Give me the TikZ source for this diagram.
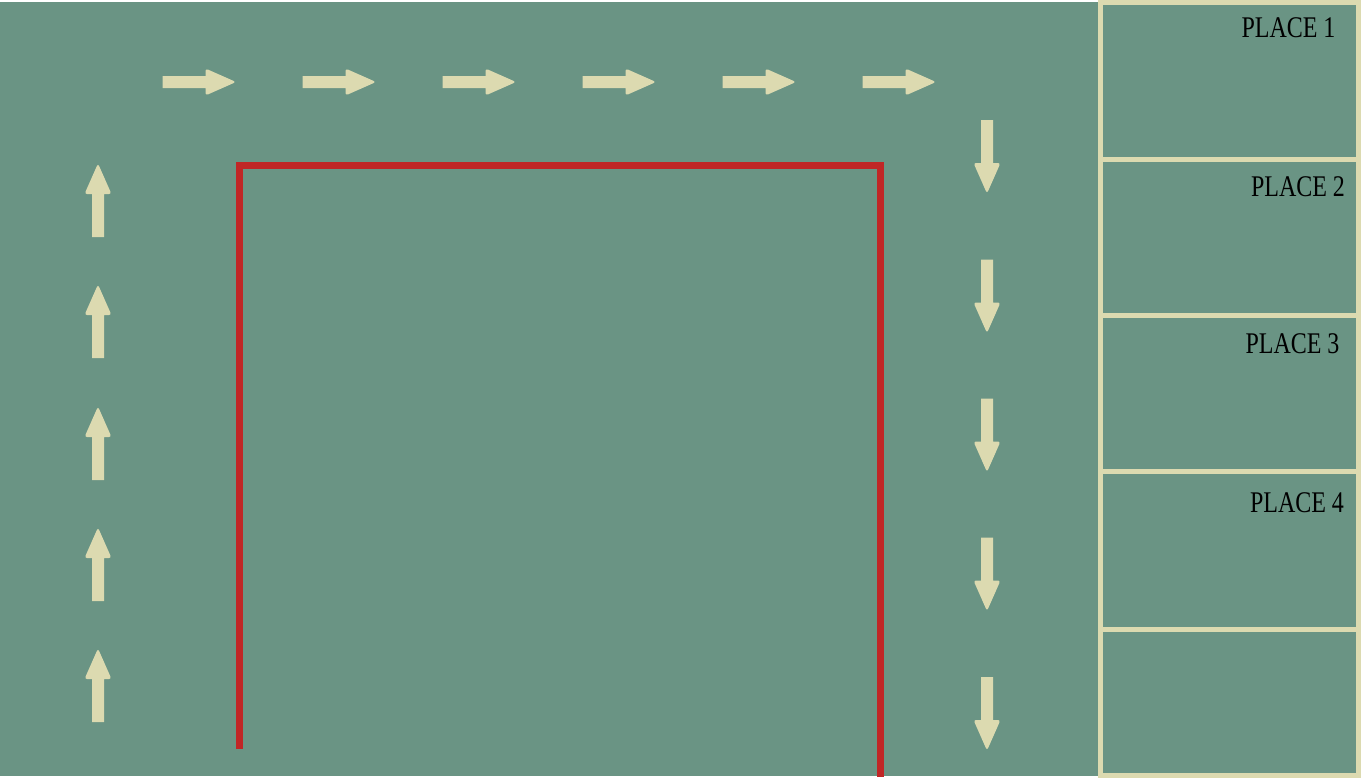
\documentclass[tikz,border=0pt]{standalone}
\usepackage{fontspec}
\newfontfamily\placefont[FakeStretch=0.8]{Liberation Serif}
\definecolor{boardgreen}{RGB}{106,148,132}
\definecolor{cream}{RGB}{220,218,176}
\definecolor{wallred}{RGB}{192,38,38}
\tikzset{
  flowarrow/.pic={
    \fill[cream, rounded corners=2.5pt]
      (0,-6) [sharp corners] -- (43,-6)
      [rounded corners=2.5pt] -- (43,-13.5) -- (73.5,0) -- (43,13.5)
      [sharp corners] -- (43,6) -- (0,6) -- cycle;
  },
  placebox/.style={draw=cream, fill=boardgreen, line width=5pt},
  placelabel/.style={anchor=base, inner sep=0pt, text=black,
    font=\placefont\fontsize{30}{30}\selectfont},
  wall/.style={draw=wallred, line width=7pt}
}
\begin{document}
\begin{tikzpicture}[x=1pt,y=-1pt]
\useasboundingbox (0,0) rectangle (1361,779);
\fill[white] (0,0) rectangle (1361,779);
\fill[boardgreen] (0,2) rectangle (1098,776);
% right panel
\draw[placebox] (1100.5,2.5) rectangle (1358.5,159.5);
\draw[placebox] (1100.5,159.5) rectangle (1358.5,315.5);
\draw[placebox] (1100.5,315.5) rectangle (1358.5,471.5);
\draw[placebox] (1100.5,471.5) rectangle (1358.5,629.5);
\draw[placebox] (1100.5,629.5) rectangle (1358.5,775);
\node[placelabel] (p1) at (1288.5,37) {PLACE 1};
\node[placelabel] (p2) at (1298,196) {PLACE 2};
\node[placelabel] (p3) at (1292.5,353) {PLACE 3};
\node[placelabel] (p4) at (1297,512) {PLACE 4};
% red wall
\draw[wall, line join=miter] (239.5,749) -- (239.5,165) -- (880.5,165) -- (880.5,777);
% top arrows (right)
\foreach \x in {162.5,302.5,442.5,582.5,722.5,862.5}
  \pic at (\x,82) {flowarrow};
% right arrows (down)
\foreach \y in {120,259.5,398.5,537.5,677}
  \pic[rotate=-90] at (987,\y) {flowarrow};
% left arrows (up)
\foreach \y in {237,358,480,601,722}
  \pic[rotate=90] at (98,\y) {flowarrow};
\end{tikzpicture}
\end{document}
